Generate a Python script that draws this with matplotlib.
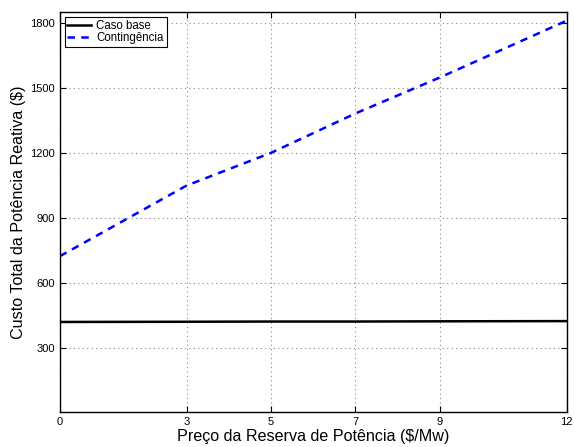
import numpy as np
import matplotlib.pyplot as plt

plt.rcParams['font.family'] = ['Liberation Sans', 'DejaVu Sans']

# Preço da reserva ($/Mw)
preco = [0, 3, 5, 7, 9, 12]
# custo total da potência reativa ($)
caso_base = [418, 419, 420, 420, 421, 422]
contingencia = [722, 1048, 1199, 1381, 1547, 1809]

xticks = [0, 3, 5, 7, 9, 12]
yticks = [300, 600, 900, 1200, 1500, 1800]

fig = plt.figure(figsize=(5.74, 4.47), dpi=100)
ax = fig.add_axes([0.1045, 0.0772, 0.8825, 0.8953])

ax.plot(preco, caso_base, color='black', linewidth=1.8, label='Caso base')
ax.plot(preco, contingencia, color='blue', linewidth=1.8, linestyle=(0, (3, 2.5)),
        label='Contingência')

ax.set_xlim(0, 12)
ax.set_ylim(0, 1848)
ax.set_xticks(xticks)
ax.set_yticks(yticks)
ax.grid(True, color='#888888', linestyle=(0, (1, 3)), linewidth=0.8)
ax.tick_params(direction='in', top=True, right=True, labelsize=8, length=4.5, width=0.8)
for s in ax.spines.values():
    s.set_linewidth(1.0)

ax.set_xlabel('Preço da Reserva de Potência ($/Mw)', fontsize=11.6, labelpad=1)
ax.set_ylabel('Custo Total da Potência Reativa ($)', fontsize=11.6, labelpad=3)

leg = ax.legend(loc='upper left', fontsize=8.3, fancybox=False, framealpha=1,
                edgecolor='black', borderpad=0.25, labelspacing=0.0,
                handlelength=2.0, handletextpad=0.5, borderaxespad=0.4)
leg.get_frame().set_linewidth(0.8)

fig.savefig('out.png', dpi=100)
